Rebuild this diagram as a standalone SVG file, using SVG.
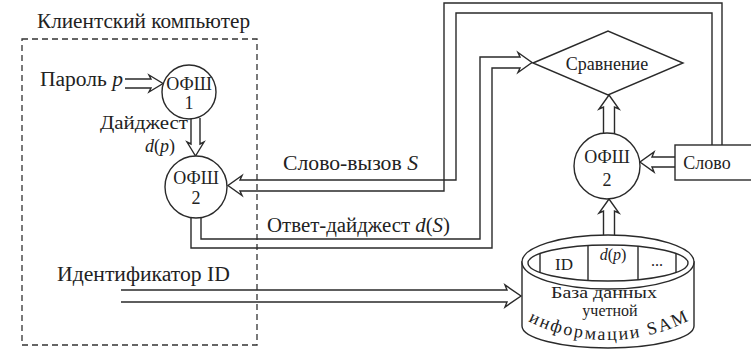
<svg xmlns="http://www.w3.org/2000/svg" width="751" height="350" viewBox="0 0 751 350">
  <defs>
    <style>
      .t { font-family: "Liberation Serif", "Times New Roman", serif; fill: #222; }
      .lb { font-size: 20px; }
      .nd { font-size: 18px; text-anchor: middle; }
      .cy { font-size: 16px; text-anchor: middle; }
      .arc { font-size: 18px; }
      .it { font-style: italic; }
      .ln { fill: none; stroke: #2a2a2a; stroke-width: 1.4; stroke-linejoin: miter; }
      .sh { fill: #fff; stroke: #2a2a2a; stroke-width: 1.4; }
      .dash { fill: none; stroke: #333; stroke-width: 1.3; stroke-dasharray: 6 4; }
    </style>
  </defs>
  <rect width="751" height="350" fill="#fff"/>

  <!-- client computer boundary -->
  <g id="client">
    <rect class="dash" x="22" y="39" width="235" height="306"/>
    <text class="t lb" x="37" y="28" textLength="213" lengthAdjust="spacingAndGlyphs">Клиентский компьютер</text>
  </g>

  <!-- connectors -->
  <g id="connectors">
    <!-- Password -> OFSh1 -->
    <path class="ln" d="M 125,79 H 151 L 149,75 L 163,83.5 L 149,92 L 151,88 H 125"/>
    <!-- OFSh1 -> OFSh2 (digest) -->
    <path class="ln" d="M 191,118 V 144 L 187,142 L 195.5,156 L 204,142 L 200,144 V 118"/>
    <!-- Word -> (top loop) -> client OFSh2 : challenge S -->
    <path class="ln" d="M 722,145 V 3 H 444 V 191 H 240 L 242,195.5 L 228,185.5 L 242,175.5 L 240,180 H 456 V 13 H 712 V 145"/>
    <!-- client OFSh2 -> comparison : response d(S) -->
    <path class="ln" d="M 191,217 V 248 H 492 V 68 H 520 L 518,72.5 L 532,62.5 L 518,52.5 L 520,57 H 480 V 239 H 201 V 217"/>
    <!-- Word -> server OFSh2 -->
    <path class="ln" d="M 675,157 H 652 L 654,152 L 640,162 L 654,172 L 652,167 H 675"/>
    <!-- server OFSh2 -> comparison -->
    <path class="ln" d="M 603.5,134 V 107 L 599,109 L 609,95 L 619,109 L 614.5,107 V 134"/>
    <!-- SAM -> server OFSh2 -->
    <path class="ln" d="M 603.5,236 V 211 L 599,213 L 609,199 L 619,213 L 614.5,211 V 236"/>
    <!-- ID -> SAM -->
    <path class="ln" d="M 121,290 H 507 L 505,285 L 521,296 L 505,307 L 507,302 H 121"/>

    <text class="t lb" x="40" y="86" textLength="83" lengthAdjust="spacingAndGlyphs">Пароль <tspan class="it">p</tspan></text>
    <text class="t" font-size="19" x="100" y="129" textLength="88" lengthAdjust="spacingAndGlyphs">Дайджест</text>
    <text class="t" font-size="18" x="160" y="152" text-anchor="middle"><tspan class="it">d</tspan>(<tspan class="it">p</tspan>)</text>
    <text class="t lb" x="283" y="170" textLength="135" lengthAdjust="spacingAndGlyphs">Слово-вызов <tspan class="it">S</tspan></text>
    <text class="t lb" x="267" y="232" textLength="183" lengthAdjust="spacingAndGlyphs">Ответ-дайджест <tspan class="it">d</tspan>(<tspan class="it">S</tspan>)</text>
    <text class="t lb" x="57" y="281" textLength="173" lengthAdjust="spacingAndGlyphs">Идентификатор ID</text>
  </g>

  <!-- OFSh 1 (client) -->
  <g id="ofsh1">
    <circle class="sh" cx="189" cy="92" r="27"/>
    <text class="t nd" x="189" y="90">ОФШ</text>
    <text class="t nd" x="189" y="109">1</text>
  </g>

  <!-- OFSh 2 (client) -->
  <g id="ofsh2-client">
    <circle class="sh" cx="196" cy="187" r="31"/>
    <text class="t nd" x="196" y="184">ОФШ</text>
    <text class="t nd" x="196" y="204">2</text>
  </g>

  <!-- Comparison -->
  <g id="compare">
    <polygon class="sh" points="533,63 608,31 683,63 608,95"/>
    <text class="t nd" x="607" y="70">Сравнение</text>
  </g>

  <!-- OFSh 2 (server) -->
  <g id="ofsh2-server">
    <circle class="sh" cx="607" cy="166" r="33"/>
    <text class="t nd" x="607" y="163">ОФШ</text>
    <text class="t nd" x="607" y="186">2</text>
  </g>

  <!-- Word box -->
  <g id="word">
    <rect class="sh" x="675" y="145" width="82" height="35"/>
    <text class="t nd" x="707" y="169" font-size="19">Слово</text>
  </g>

  <!-- SAM database cylinder -->
  <g id="sam">
    <path class="sh" d="M 522,262 V 326 A 86 22 0 0 0 694,326 V 262 Z"/>
    <ellipse class="sh" cx="608" cy="262" rx="86" ry="27"/>
    <ellipse class="ln" cx="608" cy="263" rx="80" ry="18"/>
    <path class="ln" d="M 540,253.5 V 272.5 M 588,245.6 V 280.4 M 638,246.3 V 279.7 M 676,253.5 V 272.5"/>
    <text class="t" x="564" y="270" font-size="17" text-anchor="middle">ID</text>
    <text class="t" x="613" y="260" font-size="16" text-anchor="middle"><tspan class="it">d</tspan>(<tspan class="it">p</tspan>)</text>
    <text class="t" x="657" y="266" font-size="16" text-anchor="middle">...</text>
    <text class="t cy" x="604" y="298" textLength="106" lengthAdjust="spacingAndGlyphs">База данных</text>
    <text class="t cy" x="610" y="316" font-size="14">учетной</text>
    <text class="t arc" x="528 538.5 549.3 562.4 573.2" y="321 325.9 330 334.1 336.6" rotate="25.3 21.5 17.5 13.5 9.9">инфор</text>
    <text class="t arc" x="584.2 597.2 607.3 618.9 630.4" y="338.4 339.7 340 339.7 338.6" rotate="6 2.3 -1.2 -5 -8.7">мации</text>
    <text class="t arc" x="648.6 660.2 674.2" y="335.3 332.2 327.2" rotate="-14.7 -19 -24.3">SAM</text>
  </g>
</svg>
